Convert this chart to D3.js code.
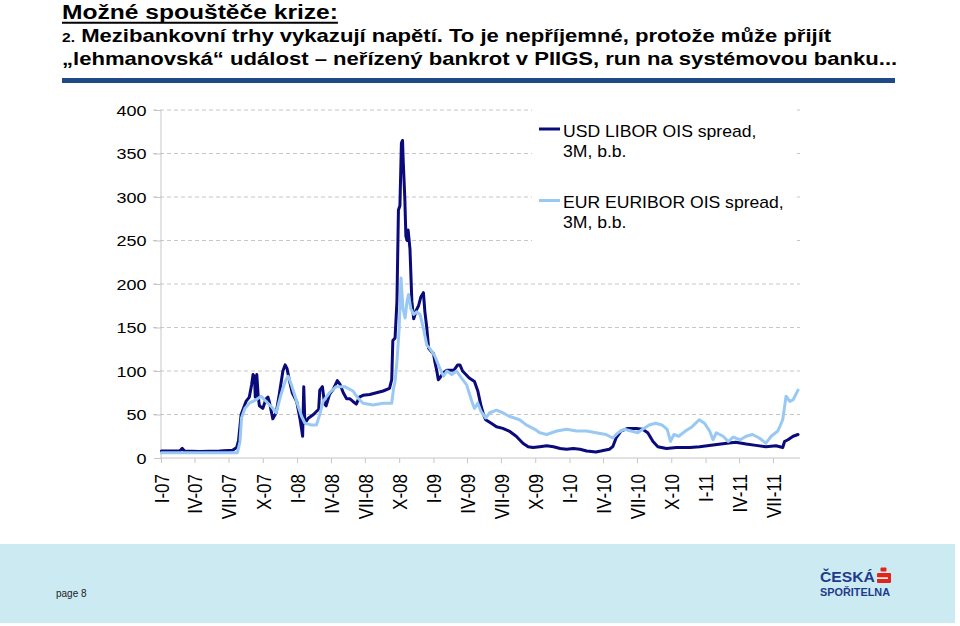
<!DOCTYPE html>
<html><head><meta charset="utf-8">
<script src="https://cdn.jsdelivr.net/npm/d3@7"></script>
<style>
body{margin:0;background:#fff}
svg{display:block;font-family:"Liberation Sans",Arial,Helvetica,sans-serif}
</style>
</head><body>
<svg id="c" width="960" height="626"></svg>
<script>
// ---------- data ----------
const titleText = "Možné spouštěče krize:";
const subtitleNum = "2.";
const subtitleLine1 = " Mezibankovní trhy vykazují napětí. To je nepříjemné, protože může přijít";
const subtitleLine2 = "„lehmanovská“ událost – neřízený bankrot v PIIGS, run na systémovou banku...";
const pageLabel = "page 8";
const logoLines = ["ČESKÁ", "SPOŘITELNA"];

const xTickLabels = ["I-07","IV-07","VII-07","X-07","I-08","IV-08","VII-08","X-08","I-09","IV-09","VII-09","X-09","I-10","IV-10","VII-10","X-10","I-11","IV-11","VII-11"];
const yTicks = [0,50,100,150,200,250,300,350,400];
const seriesNames = [["USD LIBOR OIS spread,","3M, b.b."],["EUR EURIBOR OIS spread,","3M, b.b."]];
const seriesColors = ["#0a0a7a","#99c9f2"];

const usd = [["2007-01-02",8],["2007-02-20",8],["2007-02-27",11],["2007-03-05",8],["2007-04-14",7.5],["2007-06-07",8],["2007-07-12",9],["2007-07-23",12],["2007-07-28",20],["2007-08-04",50],["2007-08-17",65],["2007-08-26",70],["2007-09-01",84],["2007-09-05",96],["2007-09-09",93],["2007-09-11",70],["2007-09-15",96],["2007-09-19",70],["2007-09-22",60],["2007-10-01",57],["2007-10-10",68],["2007-10-15",70],["2007-10-19",64],["2007-10-28",45],["2007-11-06",52],["2007-11-15",75],["2007-11-24",100],["2007-11-30",107],["2007-12-05",103],["2007-12-12",88],["2007-12-19",75],["2007-12-31",65],["2008-01-09",45],["2008-01-16",25],["2008-01-19",82],["2008-01-22",40],["2008-02-01",46],["2008-02-14",50],["2008-02-28",56],["2008-03-02",78],["2008-03-09",82],["2008-03-15",62],["2008-03-19",60],["2008-03-28",73],["2008-04-07",79],["2008-04-18",89],["2008-04-25",85],["2008-05-04",75],["2008-05-13",68],["2008-05-22",68],["2008-05-30",65],["2008-06-08",62],["2008-06-16",70],["2008-06-26",72],["2008-07-14",73],["2008-08-01",75],["2008-08-19",77],["2008-09-05",80],["2008-09-11",90],["2008-09-14",135],["2008-09-20",138],["2008-09-25",180],["2008-09-29",285],["2008-10-03",290],["2008-10-07",362],["2008-10-10",365],["2008-10-12",340],["2008-10-16",300],["2008-10-19",255],["2008-10-22",250],["2008-10-25",262],["2008-10-30",240],["2008-11-04",180],["2008-11-09",160],["2008-11-16",170],["2008-11-22",175],["2008-11-28",185],["2008-12-05",190],["2008-12-09",168],["2008-12-14",150],["2008-12-19",126],["2008-12-27",122],["2009-01-01",120],["2009-01-05",110],["2009-01-10",100],["2009-01-14",90],["2009-01-18",92],["2009-01-28",98],["2009-02-06",101],["2009-02-25",101],["2009-03-07",107],["2009-03-13",107],["2009-03-20",100],["2009-04-07",92],["2009-04-21",88],["2009-04-30",77],["2009-05-08",61],["2009-05-15",50],["2009-05-21",44],["2009-06-05",40],["2009-06-19",36],["2009-07-06",34],["2009-07-23",31],["2009-08-11",25],["2009-08-29",17],["2009-09-12",13],["2009-09-25",12],["2009-10-13",13],["2009-11-01",14],["2009-11-19",13],["2009-12-07",11],["2009-12-24",10],["2010-01-11",11],["2010-01-29",10],["2010-02-16",8],["2010-03-13",7],["2010-03-26",8],["2010-04-18",10],["2010-04-27",13],["2010-05-06",23],["2010-05-19",31],["2010-06-06",34],["2010-06-29",34],["2010-07-16",33],["2010-07-30",29],["2010-08-13",19],["2010-08-26",13],["2010-09-18",11],["2010-10-15",12],["2010-11-20",12],["2010-12-16",13],["2011-01-21",15],["2011-02-27",17],["2011-03-23",18],["2011-04-20",16],["2011-05-16",14.5],["2011-06-12",13],["2011-07-09",14],["2011-07-27",12],["2011-08-01",19],["2011-08-10",21],["2011-08-24",25],["2011-09-06",27]];

const eur = [["2007-01-02",6],["2007-07-25",6],["2007-08-01",19],["2007-08-05",46],["2007-08-14",57],["2007-08-26",63],["2007-09-13",67],["2007-09-27",71],["2007-10-10",65],["2007-10-24",59],["2007-11-06",52],["2007-11-19",73],["2007-11-30",88],["2007-12-08",94],["2007-12-17",84],["2007-12-31",65],["2008-01-13",48],["2008-01-22",40],["2008-02-09",38],["2008-02-22",38],["2008-03-02",50],["2008-03-11",65],["2008-03-28",75],["2008-04-15",82],["2008-05-08",82],["2008-05-30",77],["2008-06-12",69],["2008-06-26",63],["2008-07-23",61],["2008-08-19",63],["2008-09-11",63],["2008-09-16",80],["2008-09-20",88],["2008-09-25",111],["2008-10-01",149],["2008-10-06",207],["2008-10-11",172],["2008-10-17",161],["2008-10-22",180],["2008-10-26",188],["2008-11-01",172],["2008-11-09",165],["2008-11-17",168],["2008-11-26",165],["2008-12-05",149],["2008-12-14",130],["2008-12-22",126],["2009-01-05",117],["2009-01-18",103],["2009-01-28",94],["2009-02-06",100],["2009-02-19",96],["2009-03-04",100],["2009-03-17",92],["2009-03-31",84],["2009-04-14",65],["2009-04-21",57],["2009-04-30",63],["2009-05-08",54],["2009-05-21",46],["2009-06-01",52],["2009-06-19",55],["2009-07-06",52],["2009-07-23",48],["2009-08-20",44],["2009-09-07",38],["2009-09-30",33],["2009-10-13",29],["2009-11-01",27],["2009-11-28",31],["2009-12-24",33],["2010-01-20",31],["2010-02-16",31],["2010-03-13",29],["2010-04-09",27],["2010-04-27",23],["2010-05-11",29],["2010-05-28",33],["2010-06-15",31],["2010-07-03",29],["2010-07-16",33],["2010-08-03",38],["2010-08-20",40],["2010-09-06",38],["2010-09-20",33],["2010-09-29",19],["2010-10-08",27],["2010-10-21",25],["2010-11-08",31],["2010-11-26",36],["2010-12-15",44],["2010-12-29",40],["2011-01-12",31],["2011-01-21",21],["2011-01-30",29],["2011-02-17",25],["2011-03-03",19],["2011-03-16",24],["2011-04-04",21],["2011-04-20",25],["2011-05-07",27],["2011-05-25",23],["2011-06-12",17],["2011-06-26",25],["2011-07-14",31],["2011-07-27",44],["2011-08-05",71],["2011-08-15",65],["2011-08-24",67],["2011-09-06",78]];

// ---------- layout ----------
const plotL = 161, plotR = 800, plotT = 110, plotB = 458, dataEndX = 798;
const SX = 1.2; // horizontal stretch of the original slide text
const svg = d3.select("#c");
const parse = d3.timeParse("%Y-%m-%d");

const x = d3.scaleTime()
  .domain([parse("2007-01-01"), parse("2011-09-06")])
  .range([plotL, dataEndX]);
const y = d3.scaleLinear().domain([0, 400]).range([plotB, plotT]);

// ---------- header ----------
const tg = svg.append("g").attr("transform", `translate(62,19) scale(${SX},1)`);
const tt = tg.append("text").attr("font-size", 20.5).attr("font-weight", "bold").attr("fill", "#000").text(titleText);
const tw = tt.node().getComputedTextLength();
svg.append("line").attr("x1", 62).attr("x2", 62 + tw * SX).attr("y1", 22.8).attr("y2", 22.8)
  .attr("stroke", "#000").attr("stroke-width", 2);

const s1 = svg.append("g").attr("transform", `translate(62,42) scale(${SX},1)`)
  .append("text").attr("font-size", 18.4).attr("font-weight", "bold").attr("fill", "#000");
s1.append("tspan").attr("font-size", 13).text(subtitleNum);
s1.append("tspan").text(subtitleLine1);
svg.append("g").attr("transform", `translate(62,65) scale(${SX},1)`)
  .append("text").attr("font-size", 18.4).attr("font-weight", "bold").attr("fill", "#000").text(subtitleLine2);

svg.append("rect").attr("x", 62).attr("y", 78).attr("width", 833).attr("height", 5).attr("fill", "#1f4a86");

// ---------- grid ----------
const grid = svg.append("g");
grid.selectAll("line").data(yTicks.filter(d => d > 0)).join("line")
  .attr("x1", plotL - 8).attr("x2", plotR)
  .attr("y1", d => y(d)).attr("y2", d => y(d))
  .attr("stroke", "#c6c6c6").attr("stroke-width", 1).attr("stroke-dasharray", "4,3");

// legend background (hides grid behind legend)
svg.append("rect").attr("x", 532).attr("y", 103).attr("width", 262).attr("height", 147).attr("fill", "#fff");

// ---------- axes ----------
const yAxis = svg.append("g").attr("transform", `translate(${plotL},0)`)
  .call(d3.axisLeft(y).tickValues(yTicks).tickSize(7).tickPadding(0).tickFormat(d3.format("d")));
yAxis.select(".domain").attr("stroke", "#c6c6c6").attr("d", `M0,${plotT}V${plotB}`);
yAxis.selectAll(".tick line").attr("stroke", "#c6c6c6");
yAxis.selectAll(".tick text")
  .attr("x", -12).attr("dy", "0.36em")
  .attr("transform", `scale(${SX},1)`)
  .attr("font-size", 15).attr("fill", "#000")
  .attr("font-family", '"Liberation Sans",Arial,sans-serif');

const qDates = d3.timeMonth.every(3).range(parse("2007-01-01"), parse("2011-07-02"));
const xAxis = svg.append("g").attr("transform", `translate(0,${plotB})`)
  .call(d3.axisBottom(x).tickValues(qDates).tickSize(5).tickFormat((d, i) => xTickLabels[i]));
xAxis.select(".domain").attr("stroke", "#c6c6c6").attr("d", `M${plotL},0H${plotR}`);
xAxis.selectAll(".tick line").attr("stroke", "#c6c6c6");
xAxis.selectAll(".tick text")
  .attr("x", 0).attr("y", 0).attr("dy", "0.36em")
  .attr("text-anchor", "end")
  .attr("transform", `translate(0,16) scale(${SX},1) rotate(-90)`)
  .attr("font-size", 17).attr("fill", "#000")
  .attr("font-family", '"Liberation Sans",Arial,sans-serif');

// ---------- series ----------
const line = d3.line().x(d => x(parse(d[0]))).y(d => y(d[1])).curve(d3.curveLinear);
[usd, eur].forEach((s, i) => {
  svg.append("path").datum(s).attr("d", line)
    .attr("fill", "none").attr("stroke", seriesColors[i]).attr("stroke-width", 3)
    .attr("stroke-linejoin", "round").attr("stroke-linecap", "round");
});

// ---------- legend ----------
const legY = [129, 200.5];
seriesNames.forEach((names, i) => {
  svg.append("line").attr("x1", 539).attr("x2", 560).attr("y1", legY[i]).attr("y2", legY[i])
    .attr("stroke", seriesColors[i]).attr("stroke-width", 3);
  const g = svg.append("g").attr("transform", `translate(563,${legY[i] + 7.8}) scale(1.1,1)`);
  names.forEach((n, j) => {
    g.append("text").attr("y", j * 20).attr("font-size", 16).attr("fill", "#000").text(n);
  });
});

// ---------- footer ----------
svg.append("rect").attr("x", 0).attr("y", 544).attr("width", 955).attr("height", 79).attr("fill", "#cceaf2");
svg.append("text").attr("x", 56).attr("y", 597).attr("font-size", 10).attr("fill", "#222").text(pageLabel);
svg.append("g").attr("transform", "translate(820,582) scale(1.12,1)")
  .append("text").attr("font-size", 14).attr("font-weight", "bold").attr("fill", "#1e3c8c").text(logoLines[0]);
svg.append("text").attr("x", 820).attr("y", 596).attr("font-size", 11).attr("font-weight", "bold")
  .attr("fill", "#1e3c8c").attr("textLength", 70).attr("lengthAdjust", "spacingAndGlyphs").text(logoLines[1]);
const lg = svg.append("g").attr("fill", "#e3241b");
lg.append("rect").attr("x", 880.5).attr("y", 567.5).attr("width", 6).attr("height", 4).attr("rx", 1);
lg.append("rect").attr("x", 877).attr("y", 573).attr("width", 14).attr("height", 10).attr("rx", 1);
svg.append("rect").attr("x", 877).attr("y", 577.3).attr("width", 11).attr("height", 1.6).attr("fill", "#fff");
</script>
</body></html>
